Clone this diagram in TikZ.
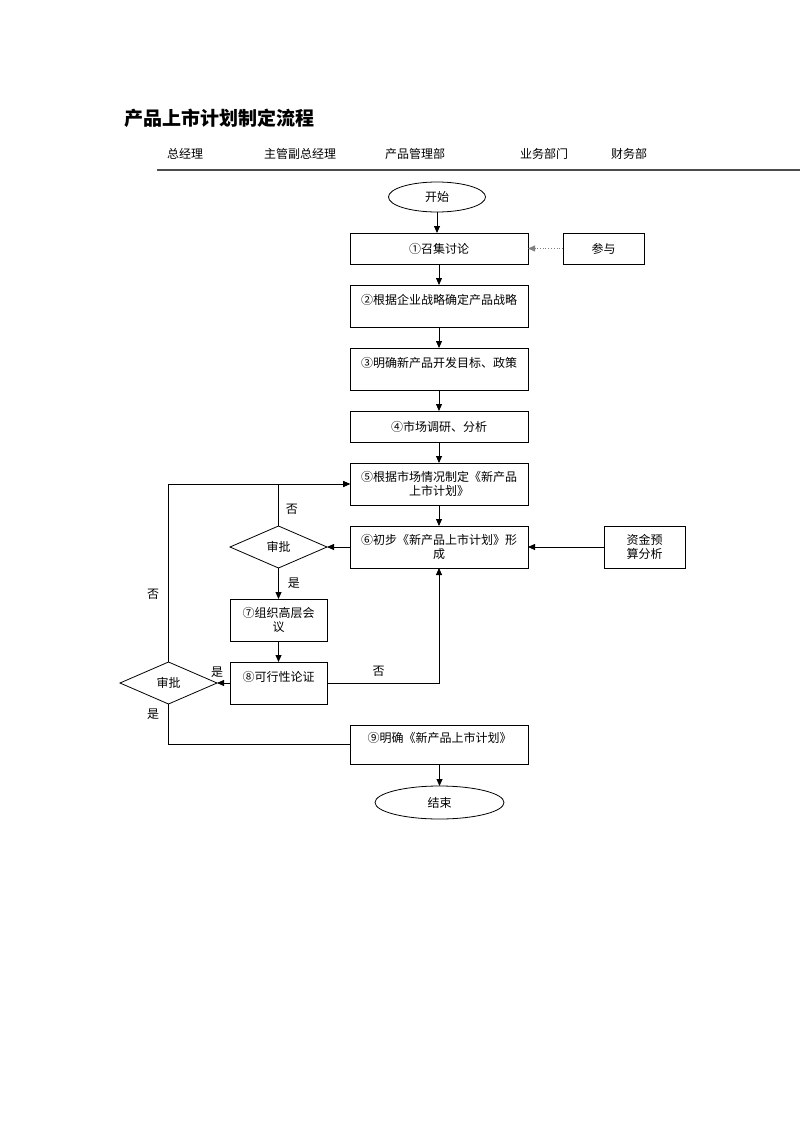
\documentclass[tikz,border=0pt]{standalone}
\usepackage{fontspec}
\setmainfont{Noto Sans CJK SC}
\usetikzlibrary{shapes.geometric, arrows.meta, positioning, calc}

\begin{document}
\begin{tikzpicture}[
    x=1pt, y=-1pt,
    node distance=21pt,
    font=\fontsize{12}{14}\selectfont,
    box/.style={rectangle, draw, line width=0.8pt, minimum width=178pt, minimum height=31pt, inner sep=0pt, outer sep=0pt, align=center},
    tallbox/.style={box, minimum height=42pt},
    sidebox/.style={box, minimum width=81pt},
    smallbox/.style={box, minimum width=97pt, minimum height=42pt},
    term/.style={ellipse, draw, line width=0.8pt, inner sep=0pt, outer sep=0pt},
    check/.style={diamond, draw, line width=0.8pt, inner sep=0pt, outer sep=0pt, minimum width=97pt, minimum height=42pt},
    arrow/.style={-{Triangle[length=7pt,width=6pt]}, line width=0.8pt},
    link/.style={line width=0.8pt},
    lbl/.style={inner sep=1pt}
]
    \useasboundingbox (0,0) rectangle (800,1132);

    % title and header
    \node[anchor=west, font=\fontsize{19}{22}\selectfont\bfseries] (title) at (121,118) {产品上市计划制定流程};
    \node (h1) at (185,154) {总经理};
    \node (h2) at (300,154) {主管副总经理};
    \node (h3) at (415,154) {产品管理部};
    \node (h4) at (544,154) {业务部门};
    \node (h5) at (629,154) {财务部};
    \draw[line width=1.2pt, black!70] (157,170) -- (800,170);

    % main column
    \node[term, minimum width=97pt, minimum height=30pt] (start) at (437,197) {开始};
    \node[box, below=of start, xshift=2pt] (s1) {①召集讨论};
    \node[tallbox, below=of s1] (s2) {②根据企业战略确定产品战略\\\mbox{}};
    \node[tallbox, below=of s2] (s3) {③明确新产品开发目标、政策\\\mbox{}};
    \node[box, below=of s3] (s4) {④市场调研、分析};
    \node[tallbox, below=of s4] (s5) {⑤根据市场情况制定《新产品\\上市计划》};
    \node[tallbox, below=of s5] (s6) {⑥初步《新产品上市计划》形\\成};
    \node[sidebox, right=35pt of s1] (join) {参与};
    \node[sidebox, minimum height=42pt, right=76pt of s6] (fund) {资金预\\算分析};

    % review loop
    \node[check, left=23pt of s6] (d1) {审批};
    \node[smallbox, below=31pt of d1] (s7) {⑦组织高层会\\议};
    \node[smallbox, below=of s7] (s8) {⑧可行性论证\\\mbox{}};
    \node[check, left=13pt of s8] (d2) {审批};
    \node[box, minimum height=39pt, below=21pt of s8, anchor=north west, xshift=72pt] (s9) {⑨明确《新产品上市计划》\\\mbox{}};
    \node[term, minimum width=129pt, minimum height=33pt, below=22pt of s9] (end) {结束};

    \draw[arrow] (start) -- (start |- s1.north);
    \draw[arrow] (s1) -- (s2);
    \draw[arrow] (s2) -- (s3);
    \draw[arrow] (s3) -- (s4);
    \draw[arrow] (s4) -- (s5);
    \draw[arrow] (s5) -- (s6);
    \draw[arrow, dotted, draw=black!50] (join) -- (s1);
    \draw[arrow] (fund) -- (s6);
    \draw[arrow] (s6) -- (d1);
    \draw[arrow] (d1.north) |- (s5.west) node[lbl, pos=0.2, right=6pt] {否};
    \draw[arrow] (d1) -- (s7) node[lbl, midway, right=8pt] {是};
    \draw[arrow] (s7) -- (s8);
    \draw[arrow] (s8.east) -| (s6.south) node[lbl, pos=0.23, above=5pt] {否};
    \draw[arrow] (s8) -- (d2) node[lbl, at end, above=4pt] {是};
    \draw[arrow] (d2.north) |- (s5.west) node[lbl, pos=0.19, left=8pt] {否};
    \draw[link] (d2.south) |- (s9.west) node[lbl, pos=0.12, left=8pt] {是};
    \draw[arrow] (s9) -- (end);
\end{tikzpicture}
\end{document}
